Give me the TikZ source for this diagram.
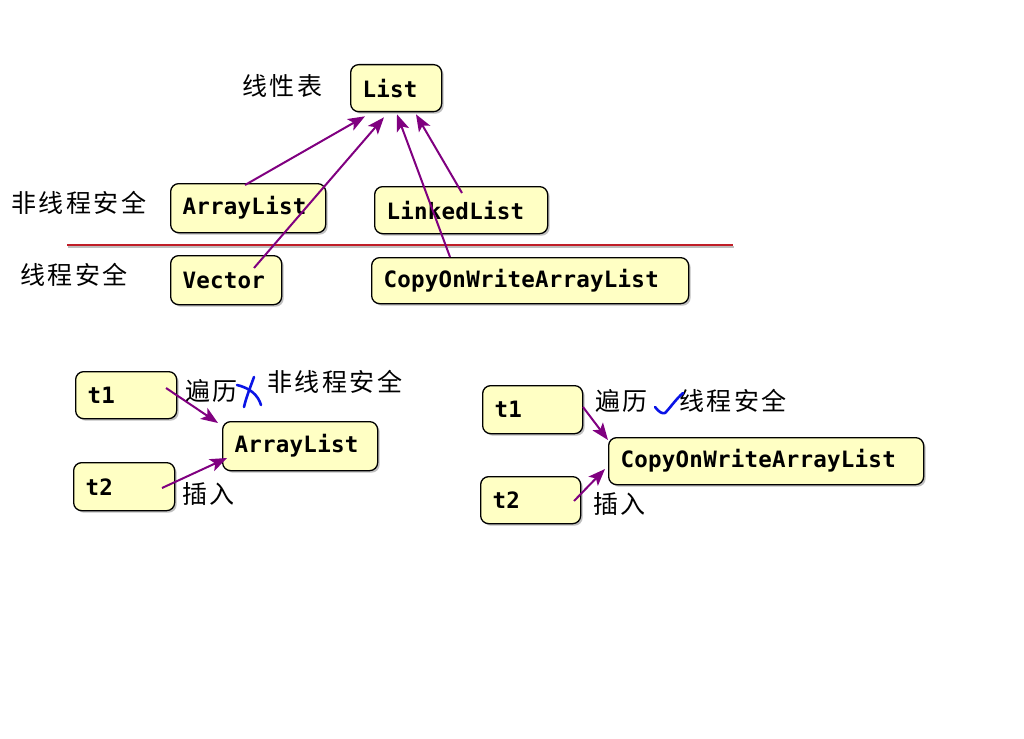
\documentclass[tikz,border=0pt]{standalone}
\usepackage{fontspec}
\newfontfamily\codefont[LetterSpace=1]{DejaVu Sans Mono}
\newfontfamily\cjk[LetterSpace=10]{Noto Sans CJK SC}
\usetikzlibrary{calc,shadows,arrows.meta}
\definecolor{boxfill}{RGB}{255,255,196}
\definecolor{arrowc}{RGB}{128,0,128}
\definecolor{sepred}{RGB}{192,30,40}
\definecolor{markblue}{RGB}{10,20,230}
\tikzset{
  cls/.style={draw=black, line width=1.3pt, fill=boxfill, rounded corners=8pt,
    anchor=north west, inner xsep=12pt, inner ysep=0pt, align=left,
    font=\codefont\bfseries\fontsize{22.5}{26}\selectfont,
    drop shadow={shadow xshift=2pt, shadow yshift=-2pt, opacity=0.25, fill=black}},
  lbl/.style={anchor=west, inner sep=0pt, font=\cjk\fontsize{25}{28}\selectfont},
  inh/.style={draw=arrowc, line width=2pt, -{Stealth[length=17pt,width=13pt,inset=4pt]}},
  penstroke/.style={draw=markblue, line width=2.6pt, line cap=round, line join=round}
}
\begin{document}
\begin{tikzpicture}[x=1pt,y=-1pt]
\useasboundingbox (0,0) rectangle (1024,738);
% top diagram
\node[cls, text width=67pt, minimum height=47pt] (list) at (350,64) {List};
\node[cls, text width=131pt, minimum height=49pt] (al) at (170,183) {ArrayList};
\node[cls, text width=149pt, minimum height=47pt] (ll) at (374,186) {LinkedList};
\node[cls, text width=87pt, minimum height=49pt] (vec) at (170,255) {Vector};
\node[cls, text width=293pt, minimum height=46pt] (cow) at (371,257) {CopyOnWriteArrayList};
\node[lbl] (lt) at (242,86) {线性表};
\node[lbl] (lunsafe) at (11,203) {非线程安全};
\node[lbl] (lsafe) at (20,275) {线程安全};
\coordinate (sl) at (67,245);
\coordinate (sr) at (733,245);
\draw[gray!50, line width=1.5pt] ($(sl)+(1,2)$) -- ($(sr)+(1,2)$);
\draw[sepred, line width=1.4pt] (sl) -- (sr);
\draw[inh] ($(al.north west)+(75,2)$) -- ($(list.south west)+(15,4)$);
\draw[inh] ($(vec.north west)+(84,13)$) -- ($(list.south west)+(34,5)$);
\draw[inh] ($(cow.north west)+(79,0)$) -- ($(list.south west)+(47,2)$);
\draw[inh] ($(ll.north west)+(88,7)$) -- ($(list.south west)+(66,2)$);
% bottom left
\node[cls, text width=77pt, minimum height=47pt] (t1) at (75,371) {t1};
\node[cls, text width=77pt, minimum height=48pt] (t2) at (73,462) {t2};
\node[cls, text width=131pt, minimum height=49pt] (al2) at (222,421) {ArrayList};
\node[lbl] (bl1) at (185,391) {遍历};
\node[lbl] (bl2) at (267,382) {非线程安全};
\node[lbl] (bl3) at (182,494) {插入};
\draw[inh] ($(t1.north west)+(91,17)$) -- ($(al2.north west)+(-4,2)$);
\draw[inh] ($(t2.north west)+(89,26)$) -- ($(al2.north west)+(5,37)$);
\draw[penstroke] (237,385) .. controls (250,388) and (258,395) .. (261,405);
\draw[penstroke] (254,377) .. controls (250,388) and (246,398) .. (244,407);
% bottom right
\node[cls, text width=76pt, minimum height=48pt] (t1b) at (482,385) {t1};
\node[cls, text width=76pt, minimum height=47pt] (t2b) at (480,476) {t2};
\node[cls, text width=291pt, minimum height=47pt] (cow2) at (608,437) {CopyOnWriteArrayList};
\node[lbl] (br1) at (595,401) {遍历};
\node[lbl] (br2) at (679,401) {线程安全};
\node[lbl] (br3) at (593,504) {插入};
\draw[inh] ($(t1b.north west)+(101,22)$) -- ($(cow2.north west)+(0,3)$);
\draw[inh] ($(t2b.north west)+(94,25)$) -- ($(cow2.north west)+(-3,32)$);
\draw[penstroke] (655,407) .. controls (659,412) and (662,414) .. (665,413) .. controls (670,408) and (676,399) .. (683,393);
\end{tikzpicture}
\end{document}
